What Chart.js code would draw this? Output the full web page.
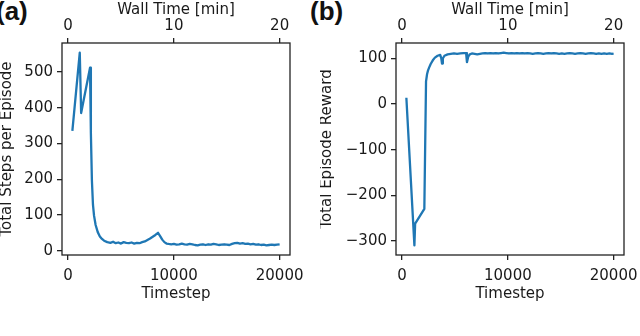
<!DOCTYPE html>
<html>
<head>
<meta charset="utf-8">
<script src="https://cdn.jsdelivr.net/npm/chart.js@4/dist/chart.umd.min.js"></script>
<style>
  html, body { margin: 0; padding: 0; background: #ffffff; }
  body { width: 640px; height: 336px; position: relative; overflow: hidden; }
  canvas { position: absolute; top: 0; }
  .panel { position: absolute; font-family: "Liberation Sans", Arial, sans-serif; font-weight: bold;
           font-size: 26px; line-height: 26px; color: #111; white-space: nowrap; }
</style>
</head>
<body>
<div class="panel" id="labA" style="left:-4px; top:-2px;">(a)</div>
<div class="panel" id="labB" style="left:310px; top:-2px;">(b)</div>
<canvas id="cA" width="320" height="310" style="left:0px;"></canvas>
<canvas id="cB" width="320" height="310" style="left:320px;"></canvas>
<script>
// ---- data ----
const stepsTimestep = [400, 1100, 1230, 2070, 2150, 2250, 2350, 2450, 2600, 2800, 3000, 3200, 3400, 3700,
  4000, 4250, 4500, 4750, 5000, 5250, 5500, 5750, 6000, 6250, 6500, 6750, 7000, 7250, 7500, 7750,
  8000, 8250, 8500, 8700, 8900, 9100, 9300, 9500, 9750, 10000, 10250, 10500, 10750, 11000, 11250,
  11500, 11750, 12000, 12250, 12500, 12750, 13000, 13250, 13500, 13750, 14000, 14250, 14500, 14750,
  15000, 15250, 15500, 15750, 16000, 16250, 16500, 16750, 17000, 17250, 17500, 17750, 18000, 18250,
  18500, 18750, 19000, 19250, 19500, 19750, 20000];
const stepsPerEpisode = [335, 554, 385, 512, 330, 195, 128, 98, 72, 52, 40, 33, 28, 24,
  22, 25, 21, 23, 20, 24, 22, 21, 23, 20, 22, 21, 24, 26, 30, 34,
  39, 44, 50, 41, 31, 24, 20, 19, 18, 19, 17, 18, 20, 18, 17,
  19, 18, 16, 15, 17, 18, 16, 18, 17, 19, 18, 16, 17, 18,
  17, 16, 19, 21, 22, 20, 21, 19, 20, 18, 19, 17, 18, 16,
  17, 15, 16, 17, 16, 17, 18];

const rewardTimestep = [400, 1160, 1230, 2100, 2260, 2360, 2450, 2550, 2700, 2900, 3100, 3350, 3600,
  3700, 3770, 3850, 4000, 4300, 4600, 4900, 5200, 5500, 5800, 6050, 6130, 6250, 6400, 6600, 6850,
  7100, 7350, 7600, 7850, 8100, 8350, 8600, 8850, 9100, 9350, 9600, 9850, 10100, 10350, 10600,
  10850, 11100, 11350, 11600, 11850, 12100, 12350, 12600, 12850, 13100, 13350, 13600, 13850, 14100,
  14350, 14600, 14850, 15100, 15350, 15600, 15850, 16100, 16350, 16600, 16850, 17100, 17350, 17600,
  17850, 18100, 18350, 18600, 18850, 19100, 19350, 19600, 19850, 20000];
const episodeReward = [14, -310, -262, -230, 50, 66, 74, 80, 88, 96, 102, 106, 108,
  101, 89, 100, 106, 109, 110, 111, 110, 111, 112, 112, 92, 104, 109, 111, 110,
  109, 110, 111, 112, 111, 112, 111, 112, 111, 112, 113, 112, 111, 112, 111,
  112, 111, 112, 111, 112, 111, 110, 111, 112, 111, 110, 111, 112, 111,
  112, 111, 110, 111, 110, 111, 112, 111, 110, 111, 112, 111, 110, 111,
  112, 111, 110, 111, 110, 111, 110, 111, 110, 111];

const timestepTicks = [0, 10000, 20000];
const wallTimeTicks = [0, 10, 20];
const stepsTicks = [0, 100, 200, 300, 400, 500];
const rewardTicks = [-300, -200, -100, 0, 100];

// ---- styling ----
const FONT = "'DejaVu Sans', 'Liberation Sans', sans-serif";
const TXT = '#1a1a1a';
const AX = '#222222';
const LINE = '#1f77b4';

const framePlugin = {
  id: 'frame',
  afterDraw(chart) {
    const a = chart.chartArea, c = chart.ctx;
    c.save();
    c.strokeStyle = AX;
    c.lineWidth = 1.3;
    c.strokeRect(a.left, a.top, a.right - a.left, a.bottom - a.top);
    c.restore();
  }
};

function fixTicks(values) {
  return function (scale) { scale.ticks = values.map(v => ({ value: v })); };
}
function fixSize(prop, size) {
  return function (scale) {
    scale[prop] = size;
    scale.paddingLeft = 0; scale.paddingRight = 0; scale.paddingTop = 0; scale.paddingBottom = 0;
  };
}
const minusFmt = v => String(v).replace('-', '\u2212');

function makeChart(id, xs, ys, yTicks, yMin, yMax, yTitle, yWidth, rightPad) {
  const gridOpts = { display: true, drawOnChartArea: false, drawTicks: true, tickLength: 5, color: AX, lineWidth: 1.3 };
  const tickFont = { family: FONT, size: 15 };
  const titleFont = { family: FONT, size: 15, lineHeight: 1 };
  return new Chart(document.getElementById(id), {
    type: 'line',
    data: {
      datasets: [{
        data: xs.map((x, i) => ({ x: x, y: ys[i] })),
        borderColor: LINE, borderWidth: 2.3, pointRadius: 0, tension: 0, fill: false,
        borderJoinStyle: 'round', borderCapStyle: 'butt'
      }]
    },
    options: {
      responsive: false, animation: false,
      layout: { padding: { left: 0, right: rightPad, top: 0, bottom: 0 } },
      plugins: { legend: { display: false }, tooltip: { enabled: false } },
      scales: {
        x: {
          type: 'linear', position: 'bottom', min: -580, max: 20980,
          afterBuildTicks: fixTicks(timestepTicks),
          afterFit: fixSize('height', 55),
          grid: gridOpts, border: { display: false },
          ticks: { font: tickFont, color: TXT, padding: 7, maxRotation: 0, callback: v => String(v) },
          title: { display: true, text: 'Timestep', font: titleFont, color: TXT, padding: { top: 0, bottom: 8 } }
        },
        x2: {
          type: 'linear', position: 'top', min: -0.58, max: 20.98,
          afterBuildTicks: fixTicks(wallTimeTicks),
          afterFit: fixSize('height', 43),
          grid: gridOpts, border: { display: false },
          ticks: { font: tickFont, color: TXT, padding: 3, maxRotation: 0, callback: v => String(v) },
          title: { display: true, text: 'Wall Time [min]', font: titleFont, color: TXT, padding: { top: 3, bottom: 0 } }
        },
        y: {
          type: 'linear', position: 'left', min: yMin, max: yMax,
          afterBuildTicks: fixTicks(yTicks),
          afterFit: fixSize('width', yWidth),
          grid: gridOpts, border: { display: false },
          ticks: { font: tickFont, color: TXT, padding: 4, callback: minusFmt },
          title: { display: true, text: yTitle, font: titleFont, color: TXT, padding: { top: 0, bottom: 0 } }
        }
      }
    },
    plugins: [framePlugin]
  });
}

makeChart('cA', stepsTimestep, stepsPerEpisode, stepsTicks, -12, 581, 'Total Steps per Episode', 62, 30);
makeChart('cB', rewardTimestep, episodeReward, rewardTicks, -331, 134, 'Total Episode Reward', 76, 16);
</script>
</body>
</html>
